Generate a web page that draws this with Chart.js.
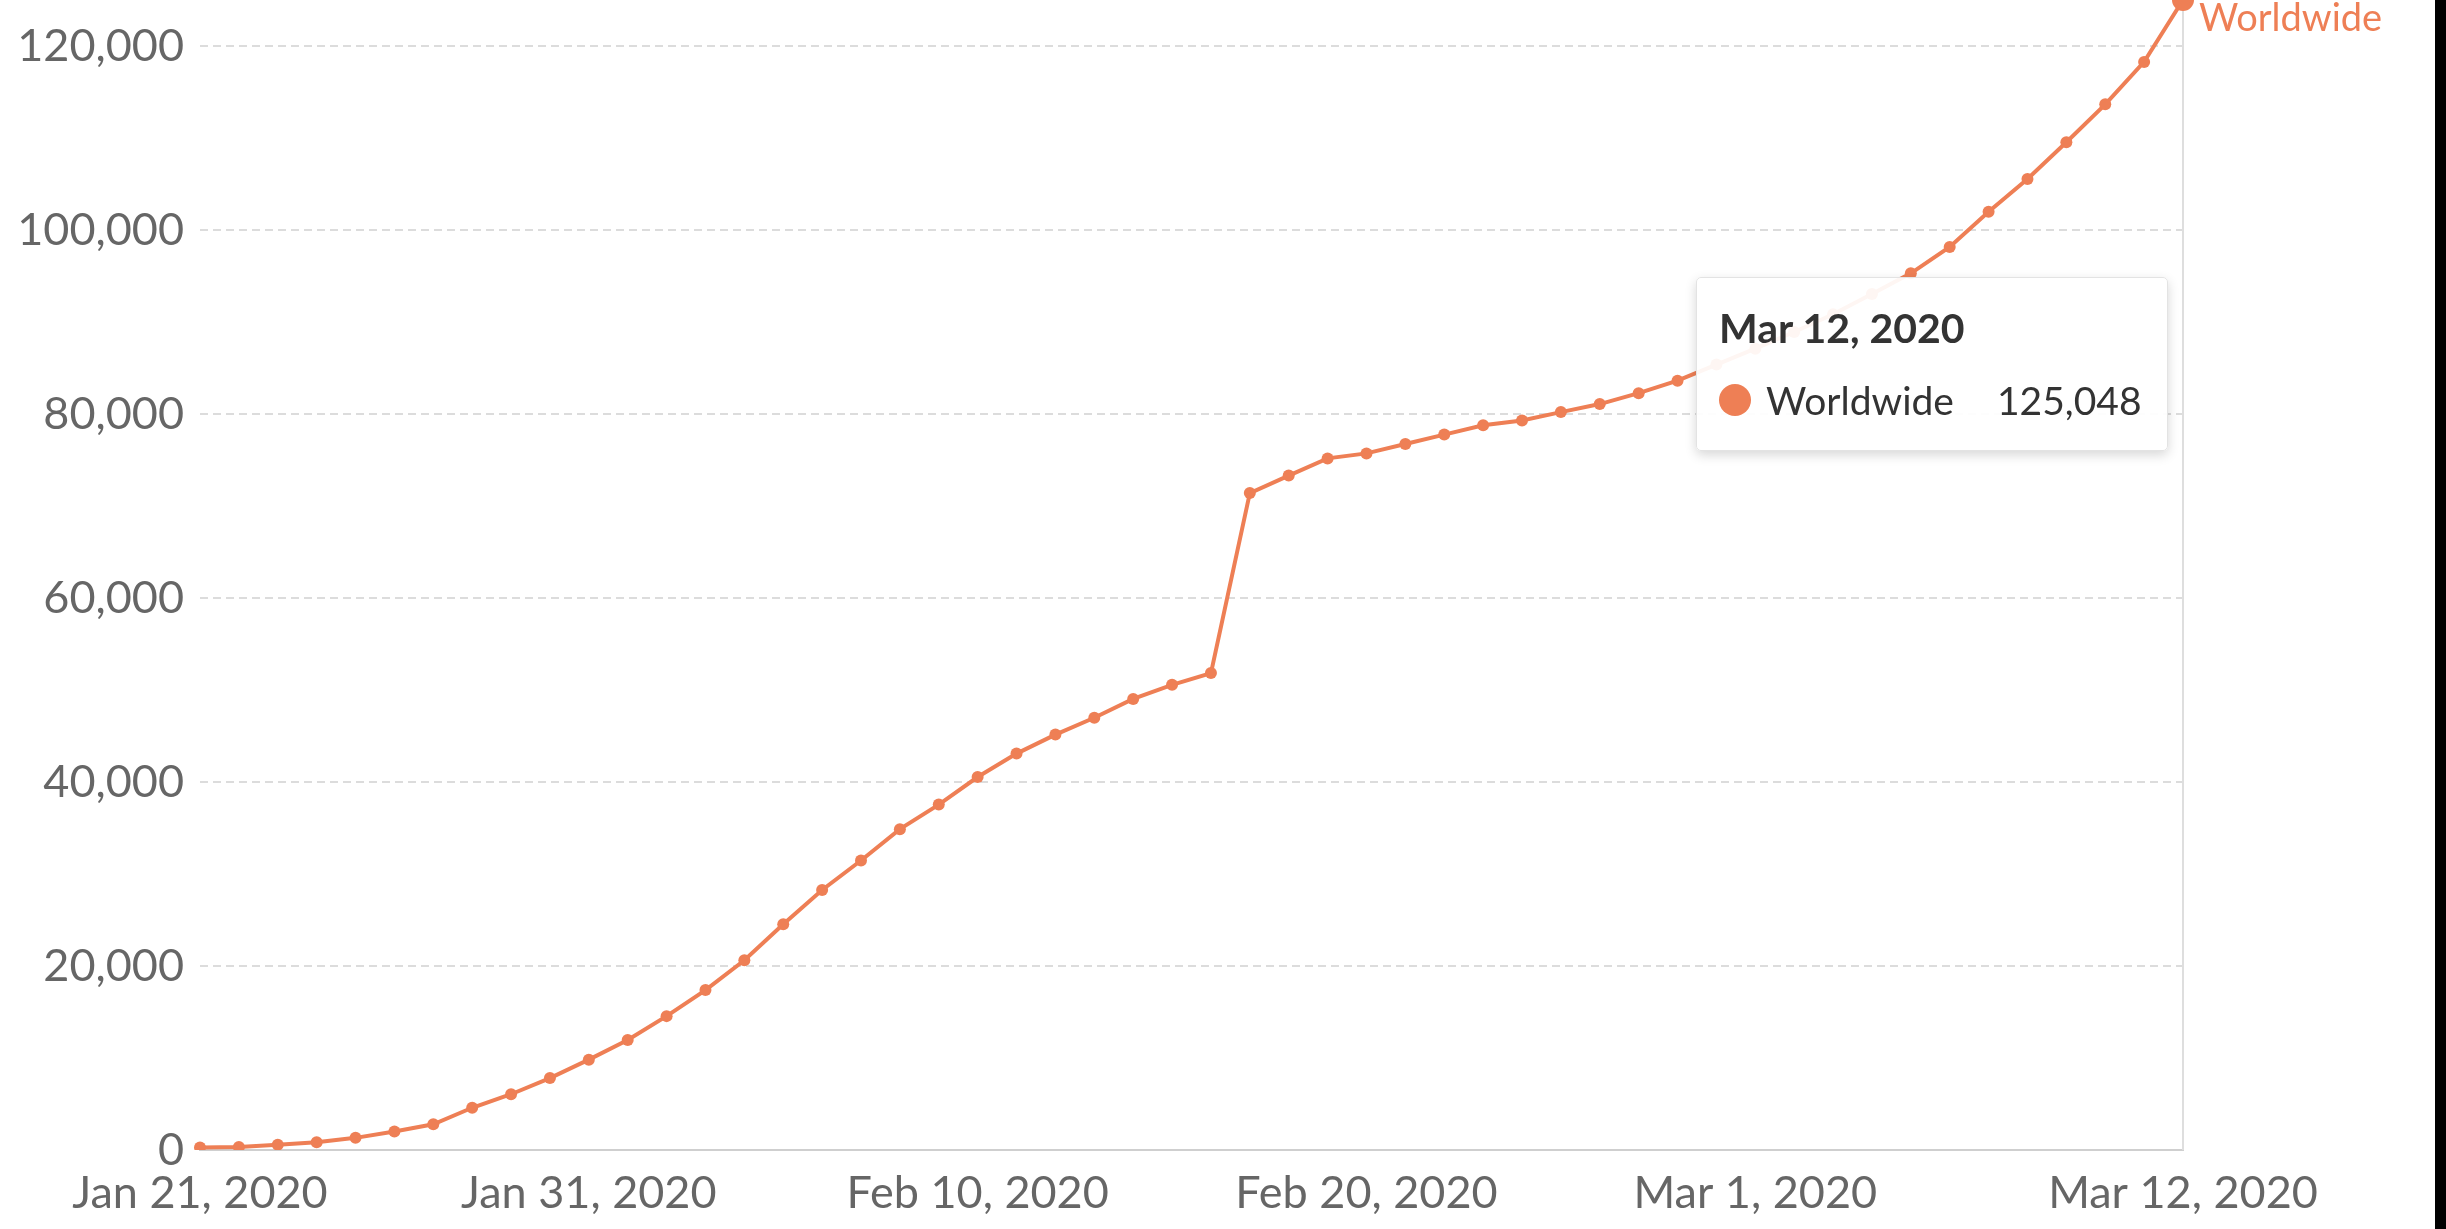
<!DOCTYPE html>
<html>
<head>
<meta charset="utf-8">
<script src="https://cdn.jsdelivr.net/npm/chart.js@4.4.1/dist/chart.umd.min.js"></script>
<style>
  html,body{margin:0;padding:0;background:#fff;overflow:hidden}
  body{width:2446px;height:1229px;position:relative;font-family:Lato,"Open Sans",sans-serif}
  #cv{position:absolute;left:0;top:0}
  #edge{position:absolute;right:0;top:0;width:11px;height:1229px;background:#000}
  #tip{position:absolute;opacity:0;background:rgba(255,255,255,.93);border:1px solid #e3e3e3;border-radius:5px;
       box-shadow:0 4px 12px rgba(0,0,0,.16);padding:25px 25px 25px 22px;color:#333;white-space:nowrap;pointer-events:none}
  #tip .tt{font:bold 41px/50px Lato;}
  #tip .tb{display:flex;align-items:center;font:39px/50px Lato;margin-top:22px}
  #tip .dot{width:32px;height:32px;border-radius:50%;margin-right:15px;display:inline-block}
  #tip .val{margin-left:43px}
</style>
</head>
<body>
<canvas id="cv" width="2435" height="1236"></canvas>
<div id="tip"></div>
<div id="edge"></div>
<script>
const $ = (id)=>document.getElementById(id);

// ---------- data ----------
const days = [
  'Jan 21, 2020','Jan 22, 2020','Jan 23, 2020','Jan 24, 2020','Jan 25, 2020','Jan 26, 2020','Jan 27, 2020',
  'Jan 28, 2020','Jan 29, 2020','Jan 30, 2020','Jan 31, 2020','Feb 1, 2020','Feb 2, 2020','Feb 3, 2020',
  'Feb 4, 2020','Feb 5, 2020','Feb 6, 2020','Feb 7, 2020','Feb 8, 2020','Feb 9, 2020','Feb 10, 2020',
  'Feb 11, 2020','Feb 12, 2020','Feb 13, 2020','Feb 14, 2020','Feb 15, 2020','Feb 16, 2020','Feb 17, 2020',
  'Feb 18, 2020','Feb 19, 2020','Feb 20, 2020','Feb 21, 2020','Feb 22, 2020','Feb 23, 2020','Feb 24, 2020',
  'Feb 25, 2020','Feb 26, 2020','Feb 27, 2020','Feb 28, 2020','Feb 29, 2020','Mar 1, 2020','Mar 2, 2020',
  'Mar 3, 2020','Mar 4, 2020','Mar 5, 2020','Mar 6, 2020','Mar 7, 2020','Mar 8, 2020','Mar 9, 2020',
  'Mar 10, 2020','Mar 11, 2020','Mar 12, 2020'
];
const worldwide = [
  282, 314, 581, 846, 1320, 2014, 2798, 4593, 6065, 7818, 9826,
  11953, 14557, 17391, 20630, 24554, 28276, 31481, 34886, 37558, 40554,
  43103, 45171, 46997, 49053, 50580, 51857, 71429, 73332, 75204, 75748,
  76769, 77794, 78811, 79331, 80239, 81109, 82294, 83652, 85403, 87137,
  88948, 90870, 93090, 95324, 98192, 102015, 105586, 109577, 113702, 118319,
  125048
];
const seriesName = 'Worldwide';
const xTicks = ['Jan 21, 2020','Jan 31, 2020','Feb 10, 2020','Feb 20, 2020','Mar 1, 2020','Mar 12, 2020'];
const yTicks = [0, 20000, 40000, 60000, 80000, 100000, 120000];

const ORANGE = '#ee7f55';
const last = worldwide.length - 1;

// ---------- tooltip (html) ----------
function renderTip(context){
  const {chart, tooltip} = context; const el = $('tip');
  if(!tooltip.opacity){ el.style.opacity = 0; return; }
  const dp = tooltip.dataPoints[0];
  el.innerHTML = `<div class="tt">${tooltip.title[0]}</div>
    <div class="tb"><span class="dot" style="background:${dp.dataset.borderColor}"></span><span>${dp.dataset.label}</span><span class="val">${dp.formattedValue}</span></div>`;
  el.style.opacity = 1;
  const a = chart.chartArea;
  el.style.left = (a.right - 15 - el.offsetWidth) + 'px';
  el.style.top = (a.top + 277) + 'px';
}

// hover line + end label
const endMarks = {
  id:'endMarks',
  beforeDatasetsDraw(chart){
    const {ctx, chartArea:a} = chart; const pt = chart.getDatasetMeta(0).data[last];
    ctx.save(); ctx.strokeStyle = '#dedede'; ctx.lineWidth = 2;
    ctx.beginPath(); ctx.moveTo(pt.x, a.top); ctx.lineTo(pt.x, a.bottom); ctx.stroke(); ctx.restore();
  },
  afterDatasetsDraw(chart){
    const {ctx} = chart; const pt = chart.getDatasetMeta(0).data[last];
    ctx.save(); ctx.font = '38px Lato'; ctx.fillStyle = ORANGE; ctx.textBaseline = 'alphabetic';
    ctx.fillText(seriesName, pt.x + 16, pt.y + 31); ctx.restore();
  }
};

Chart.defaults.font.family = 'Lato';

const chart = new Chart($('cv'), {
  type:'line',
  data:{labels:days, datasets:[{
    label:seriesName, data:worldwide, borderColor:ORANGE, backgroundColor:ORANGE,
    borderWidth:4, pointRadius:6, pointBorderWidth:0, pointHoverRadius:11, pointHoverBorderWidth:0,
    pointBackgroundColor:ORANGE, pointHoverBackgroundColor:ORANGE, tension:0
  }]},
  options:{
    responsive:false, animation:false, events:[],
    layout:{autoPadding:false, padding:{left:0, right:252, top:0, bottom:0}},
    plugins:{
      legend:{display:false},
      tooltip:{enabled:false, external:renderTip, mode:'index', intersect:false}
    },
    scales:{
      x:{
        grid:{display:false, drawTicks:false},
        border:{display:true, color:'#cfcfcf', width:2},
        afterBuildTicks:(s)=>{ s.ticks = s.ticks.filter(t=>xTicks.includes(days[t.value])); },
        ticks:{autoSkip:false, maxRotation:0, padding:16, color:'#666', font:{size:45}}
      },
      y:{
        min:0, max:Math.max(...worldwide),
        afterBuildTicks:(s)=>{ s.ticks = yTicks.map(v=>({value:v})); },
        afterFit:(s)=>{ s.width = 200; s.paddingTop = 0; },
        grid:{color:'#dcdcdc', lineWidth:2, drawTicks:false},
        border:{display:false, dash:[8,5]},
        ticks:{padding:16, color:'#666', font:{size:45}, callback:(v)=>Number(v).toLocaleString('en-US')}
      }
    }
  },
  plugins:[endMarks]
});

const act = [{datasetIndex:0, index:last}];
chart.setActiveElements(act);
chart.tooltip.setActiveElements(act, {x:0, y:0});
chart.update();
</script>
</body>
</html>
